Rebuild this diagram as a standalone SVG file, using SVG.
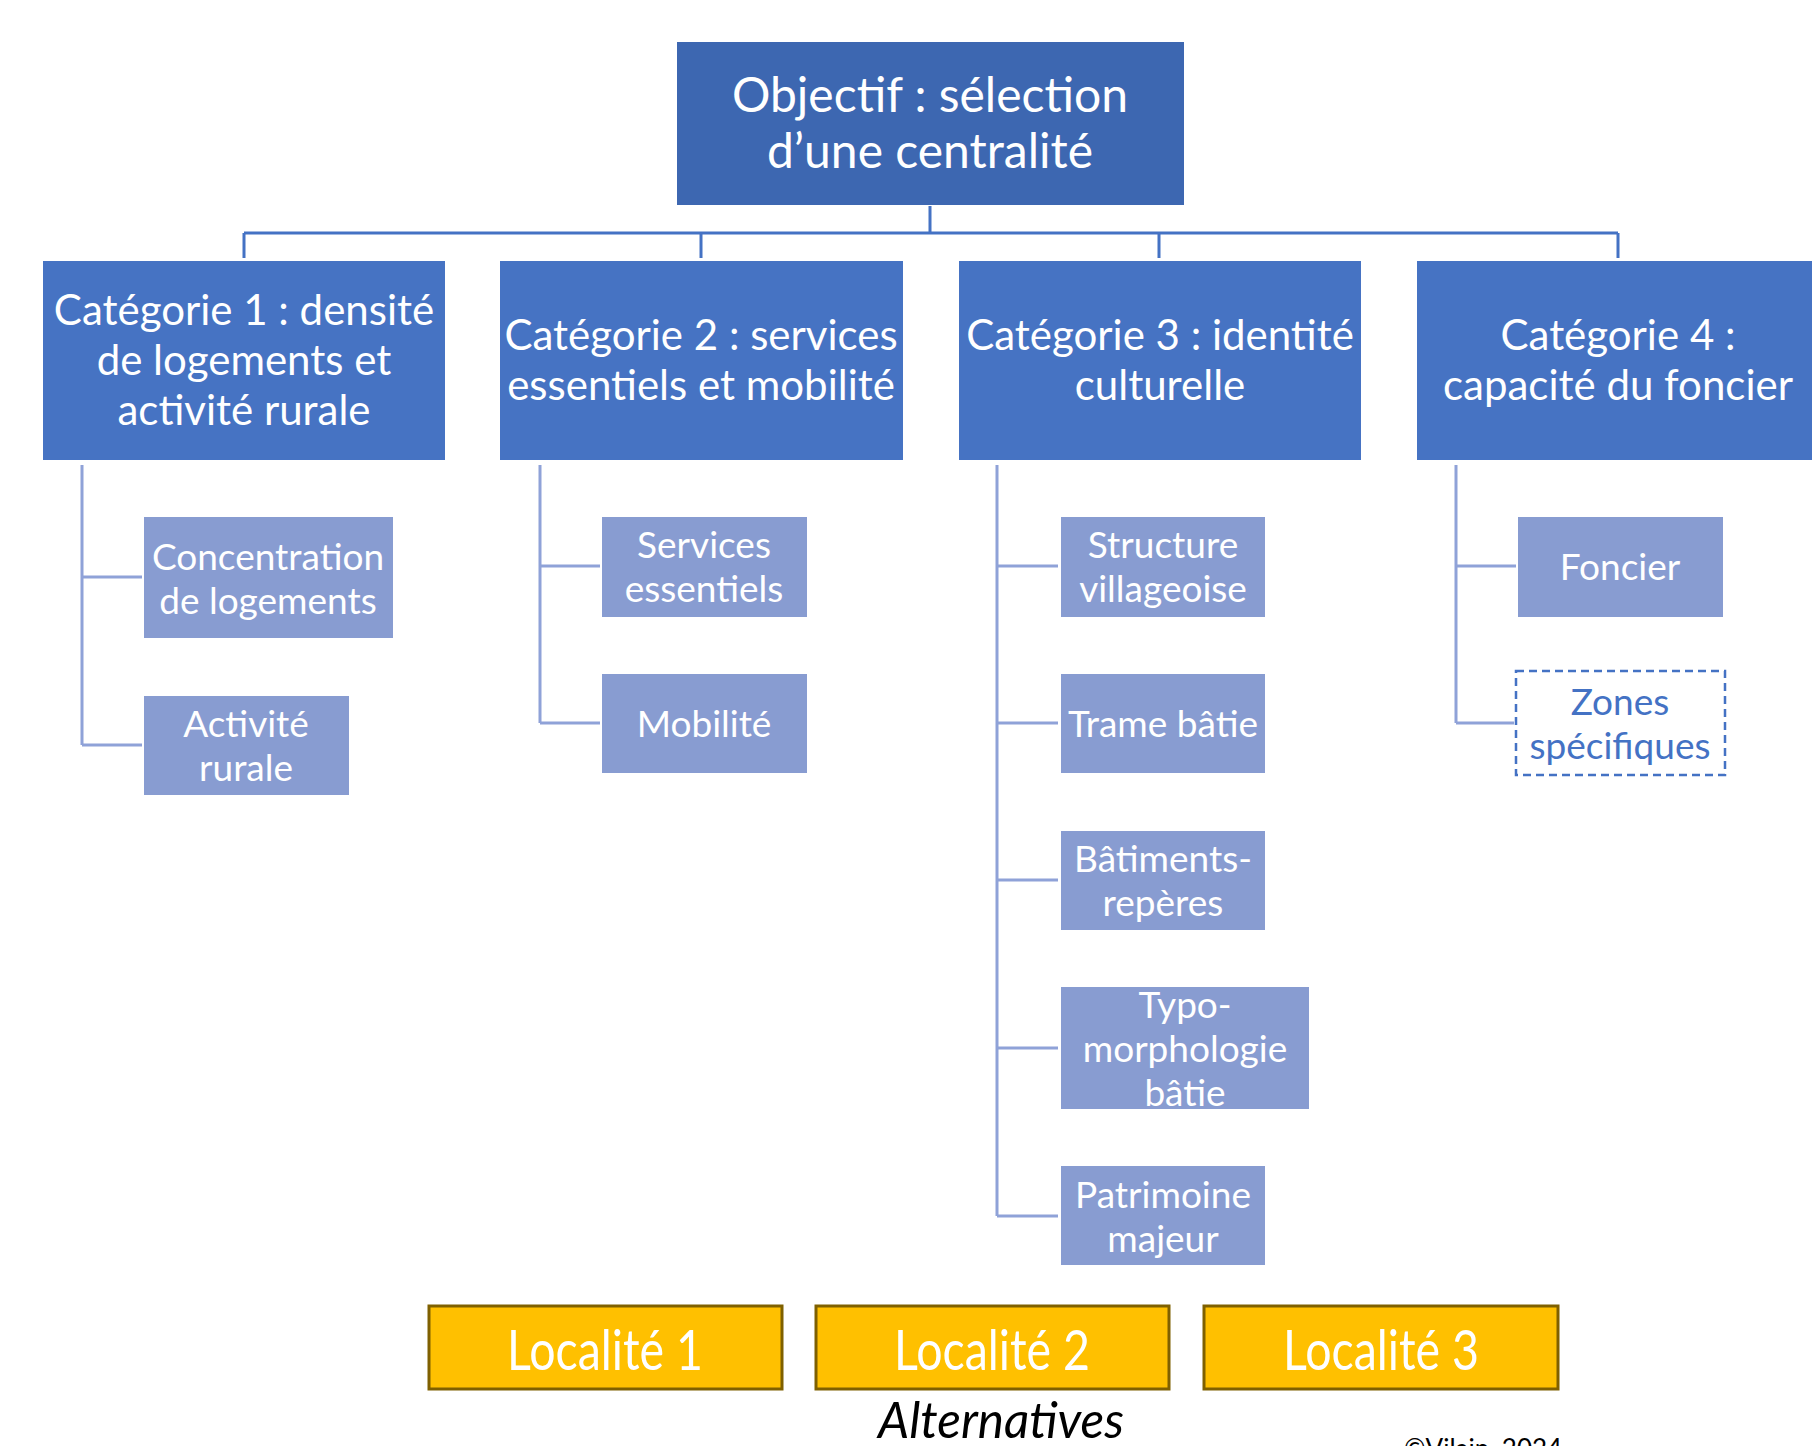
<svg xmlns="http://www.w3.org/2000/svg" width="1812" height="1446" viewBox="0 0 1812 1446">
<style>
.top{fill:#3D67B1}
.cat{fill:#4673C3}
.sub{fill:#889CD1}
.dash{fill:#FFFFFF;stroke:#4472C4;stroke-width:2.5;stroke-dasharray:8 5}
.loc{fill:#FFC000;stroke:#7F6000;stroke-width:3}
.t{font-family:Lato,"Open Sans",sans-serif;fill:#FFFFFF;text-anchor:middle;dominant-baseline:central}
.tt{font-size:48px}
.tc{font-size:42px}
.ts{font-size:37px}
.tb{fill:#4472C4}
.tl{font-family:Lato,"Open Sans",sans-serif;font-size:56px;fill:#FFFFFF;text-anchor:middle;dominant-baseline:central}
.alt{font-family:Lato,"Open Sans",sans-serif;font-style:italic;font-size:50px;fill:#000000;text-anchor:middle}
.copy{font-family:Lato,"Open Sans",sans-serif;font-size:26px;fill:#000000}
.c1{fill:none;stroke:#4472C4;stroke-width:3}
.c2{fill:none;stroke:#8FA2D8;stroke-width:3}
</style>
<rect width="1812" height="1446" fill="#FFFFFF"/>
<g id="connectors">
<path class="c1" d="M930 206 V233 M244 233 H1618 M244 233 V258 M701 233 V258 M1159 233 V258 M1618 233 V258"/>
<path class="c2" d="M82 465 V745 M82 577 H142 M82 745 H142"/>
<path class="c2" d="M540 465 V723 M540 566 H600 M540 723 H600"/>
<path class="c2" d="M997 465 V1216 M997 566 H1058 M997 723 H1058 M997 880 H1058 M997 1048 H1058 M997 1216 H1058"/>
<path class="c2" d="M1456 465 V723 M1456 566 H1516 M1456 723 H1514"/>
</g>
<g id="objectif">
<rect class="top" x="677" y="42" width="507" height="163"/>
<text class="t tt" x="930" y="93">Objectif : sélection</text>
<text class="t tt" x="930" y="149">d’une centralité</text>
</g>
<g id="cat1">
<rect class="cat" x="43" y="261" width="402" height="199"/>
<text class="t tc" x="244" y="309">Catégorie 1 : densité</text>
<text class="t tc" x="244" y="359">de logements et</text>
<text class="t tc" x="244" y="409">activité rurale</text>
</g>
<g id="cat2">
<rect class="cat" x="500" y="261" width="403" height="199"/>
<text class="t tc" x="701" y="334">Catégorie 2 : services</text>
<text class="t tc" x="701" y="384">essentiels et mobilité</text>
</g>
<g id="cat3">
<rect class="cat" x="959" y="261" width="402" height="199"/>
<text class="t tc" x="1160" y="334">Catégorie 3 : identité</text>
<text class="t tc" x="1160" y="384">culturelle</text>
</g>
<g id="cat4">
<rect class="cat" x="1417" y="261" width="402" height="199"/>
<text class="t tc" x="1618" y="334">Catégorie 4 :</text>
<text class="t tc" x="1618" y="384">capacité du foncier</text>
</g>
<g id="concentration">
<rect class="sub" x="144" y="517" width="249" height="121"/>
<text class="t ts" x="268" y="555">Concentration</text>
<text class="t ts" x="268" y="599">de logements</text>
</g>
<g id="activite">
<rect class="sub" x="144" y="696" width="205" height="99"/>
<text class="t ts" x="246" y="722">Activité</text>
<text class="t ts" x="246" y="766">rurale</text>
</g>
<g id="services">
<rect class="sub" x="602" y="517" width="205" height="100"/>
<text class="t ts" x="704" y="543">Services</text>
<text class="t ts" x="704" y="587">essentiels</text>
</g>
<g id="mobilite">
<rect class="sub" x="602" y="674" width="205" height="99"/>
<text class="t ts" x="704" y="722">Mobilité</text>
</g>
<g id="structure">
<rect class="sub" x="1061" y="517" width="204" height="100"/>
<text class="t ts" x="1163" y="543">Structure</text>
<text class="t ts" x="1163" y="587">villageoise</text>
</g>
<g id="trame">
<rect class="sub" x="1061" y="674" width="204" height="99"/>
<text class="t ts" x="1163" y="722">Trame bâtie</text>
</g>
<g id="batiments">
<rect class="sub" x="1061" y="831" width="204" height="99"/>
<text class="t ts" x="1163" y="857">Bâtiments-</text>
<text class="t ts" x="1163" y="901">repères</text>
</g>
<g id="typo">
<rect class="sub" x="1061" y="987" width="248" height="122"/>
<text class="t ts" x="1185" y="1003">Typo-</text>
<text class="t ts" x="1185" y="1047">morphologie</text>
<text class="t ts" x="1185" y="1091">bâtie</text>
</g>
<g id="patrimoine">
<rect class="sub" x="1061" y="1166" width="204" height="99"/>
<text class="t ts" x="1163" y="1193">Patrimoine</text>
<text class="t ts" x="1163" y="1237">majeur</text>
</g>
<g id="foncier">
<rect class="sub" x="1518" y="517" width="205" height="100"/>
<text class="t ts" x="1620" y="565">Foncier</text>
</g>
<g id="zones">
<rect class="dash" x="1516" y="671" width="209" height="104"/>
<text class="t ts tb" x="1620" y="700">Zones</text>
<text class="t ts tb" x="1620" y="744">spécifiques</text>
</g>
<g id="localite1">
<rect class="loc" x="429" y="1306" width="353" height="83"/>
<text class="tl" x="605" y="1348" textLength="196" lengthAdjust="spacingAndGlyphs">Localité 1</text>
</g>
<g id="localite2">
<rect class="loc" x="816" y="1306" width="353" height="83"/>
<text class="tl" x="992" y="1348" textLength="196" lengthAdjust="spacingAndGlyphs">Localité 2</text>
</g>
<g id="localite3">
<rect class="loc" x="1204" y="1306" width="354" height="83"/>
<text class="tl" x="1381" y="1348" textLength="196" lengthAdjust="spacingAndGlyphs">Localité 3</text>
</g>
<text class="alt" x="1001" y="1438" textLength="246" lengthAdjust="spacingAndGlyphs">Alternatives</text>
<text class="copy" x="1404" y="1458">©Vilain, 2024</text>
</svg>
